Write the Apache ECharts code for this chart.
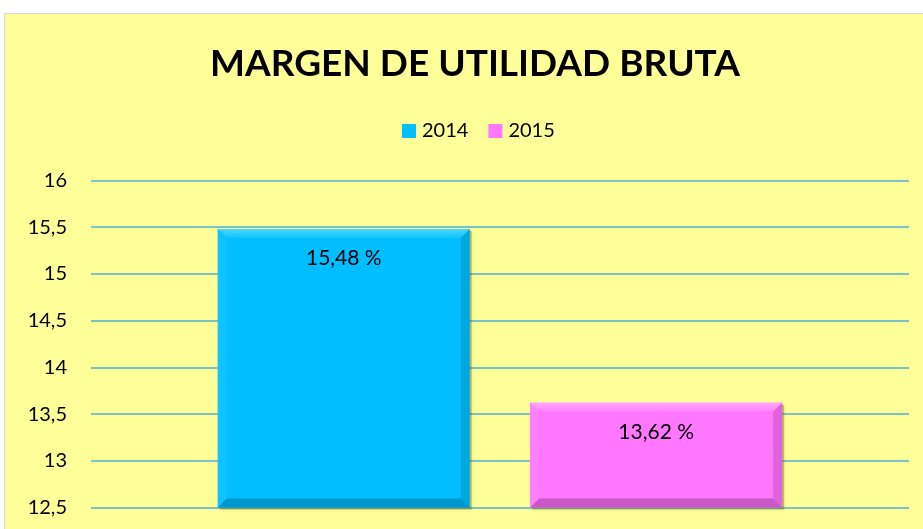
<!DOCTYPE html>
<html>
<head>
<meta charset="utf-8">
<script src="https://cdn.jsdelivr.net/npm/echarts@6/dist/echarts.min.js"></script>
<style>
  html, body { margin: 0; padding: 0; background: #ffffff; }
  #frame { position: absolute; left: 4px; top: 13px; width: 918px; height: 515px;
           border-top: 1px solid #d9d9d9; border-left: 1px solid #d9d9d9; }
  #chart { width: 918px; height: 515px; }
</style>
</head>
<body>
<div id="frame"><div id="chart"></div></div>
<script>
// Gross margin by year
const categories = ['Margen bruto'];
const years = ['2014', '2015'];
const values2014 = [15.48];
const values2015 = [13.62];
const yTicks = { min: 12.5, max: 16, interval: 0.5 };

const FONT = 'Lato, "Open Sans", sans-serif';

// body / light facet / side facet / dark facet colours per series
const palette = [
  { body: '#00BEFF', light: '#4AD8FF', side: '#10C2FF', dark: '#0098CC', shadow: 'rgba(90,90,0,0.35)' },
  { body: '#FF77FF', light: '#FFA8FF', side: '#FF80FF', dark: '#C858C8', shadow: 'rgba(90,90,0,0.35)' }
];

const fmt = v => String(v).replace('.', ',');

function bevelBar(params, api) {
  const cat = api.value(0);
  const val = api.value(1);
  const top = api.coord([cat, val]);
  const base = api.coord([cat, yTicks.min]);
  const band = api.size([1, 0])[0];
  const w = band * 0.308;
  const gap = w * 0.24;
  const dir = params.seriesIndex === 0 ? -1 : 1;
  const cx = top[0] + dir * (w + gap) / 2;
  const x0 = cx - w / 2, x1 = cx + w / 2, y0 = top[1], y1 = base[1];
  const b = 9;
  const c = palette[params.seriesIndex];
  return {
    type: 'group',
    children: [
      { type: 'rect', shape: { x: x0 + 2, y: y0 + 2, width: w, height: y1 - y0 },
        style: { fill: c.shadow, shadowBlur: 4, shadowColor: c.shadow } },
      { type: 'rect', shape: { x: x0, y: y0, width: w, height: y1 - y0 }, style: { fill: c.body } },
      { type: 'polygon', shape: { points: [[x0, y0], [x1, y0], [x1 - b, y0 + b], [x0 + b, y0 + b]] },
        style: { fill: { type: 'linear', x: 0, y: 0, x2: 0, y2: 1,
          colorStops: [{ offset: 0, color: c.light }, { offset: 1, color: c.side }] } } },
      { type: 'polygon', shape: { points: [[x0, y0], [x0 + b, y0 + b], [x0 + b, y1 - b], [x0, y1]] },
        style: { fill: c.side } },
      { type: 'polygon', shape: { points: [[x1, y0], [x1, y1], [x1 - b, y1 - b], [x1 - b, y0 + b]] },
        style: { fill: c.dark, opacity: 0.6 } },
      { type: 'polygon', shape: { points: [[x0, y1], [x1, y1], [x1 - b, y1 - b], [x0 + b, y1 - b]] },
        style: { fill: c.dark } },
      { type: 'text', x: cx, y: y0 + 29,
        style: { text: fmt(val.toFixed(2)) + ' %', fill: '#000', font: '21px ' + FONT,
                 align: 'center', verticalAlign: 'middle' } }
    ]
  };
}

const chart = echarts.init(document.getElementById('chart'));
chart.setOption({
  backgroundColor: '#FFFF99',
  animation: false,
  title: {
    text: 'MARGEN DE UTILIDAD BRUTA',
    left: 465, top: 27, textAlign: 'center',
    textStyle: { fontFamily: FONT, fontWeight: 'bold', fontSize: 37, color: '#000' }
  },
  legend: {
    top: 102, left: 392,
    itemWidth: 14, itemHeight: 14, itemGap: 20,
    textStyle: { fontFamily: FONT, fontSize: 20, color: '#000', padding: [0, 0, 0, 1] },
    data: [
      { name: years[0], icon: 'rect', itemStyle: { color: palette[0].body } },
      { name: years[1], icon: 'rect', itemStyle: { color: palette[1].body } }
    ]
  },
  grid: { left: 86, right: 14, top: 166.5, bottom: 21.5, containLabel: false },
  xAxis: {
    type: 'category', data: categories,
    axisLine: { show: false }, axisTick: { show: false }, axisLabel: { show: false }
  },
  yAxis: {
    type: 'value', min: yTicks.min, max: yTicks.max, interval: yTicks.interval,
    axisLine: { show: false }, axisTick: { show: false },
    axisLabel: { formatter: fmt, margin: 24, color: '#000', fontFamily: FONT, fontSize: 20 },
    splitLine: { lineStyle: { color: '#4FB0D6', width: 1.6 } }
  },
  series: [
    { name: years[0], type: 'custom', renderItem: bevelBar, itemStyle: { color: palette[0].body },
      data: values2014.map((v, i) => [i, v]) },
    { name: years[1], type: 'custom', renderItem: bevelBar, itemStyle: { color: palette[1].body },
      data: values2015.map((v, i) => [i, v]) }
  ]
});
</script>
</body>
</html>
